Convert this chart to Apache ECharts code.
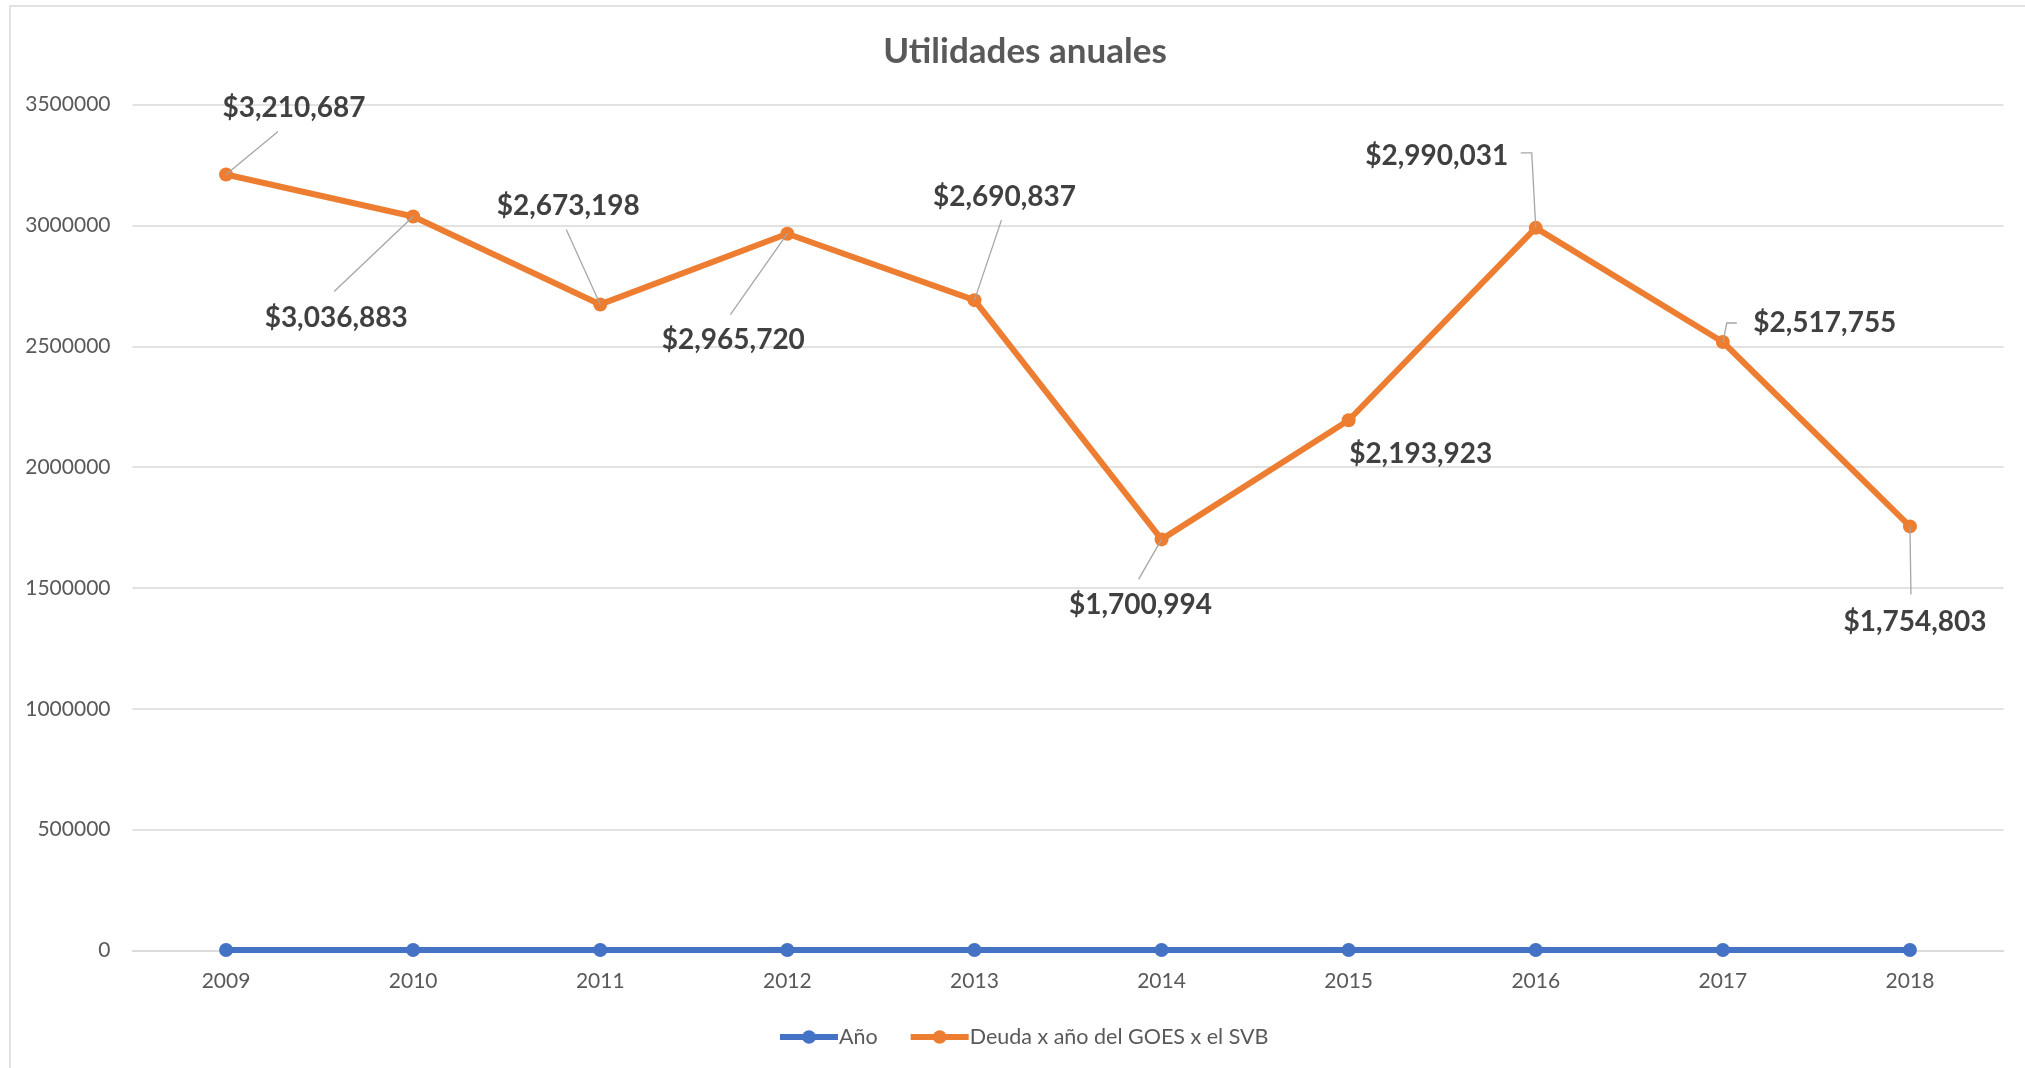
<!DOCTYPE html>
<html>
<head>
<meta charset="utf-8">
<script src="https://cdn.jsdelivr.net/npm/echarts@6/dist/echarts.min.js"></script>
<style>
html,body{margin:0;padding:0;background:#fff;}
#chart{width:2025px;height:1068px;}
</style>
</head>
<body>
<div id="chart"></div>
<script>
const categories = ['2009','2010','2011','2012','2013','2014','2015','2016','2017','2018'];
const anoValues = [2009, 2010, 2011, 2012, 2013, 2014, 2015, 2016, 2017, 2018];
const deudaValues = [3210687, 3036883, 2673198, 2965720, 2690837, 1700994, 2193923, 2990031, 2517755, 1754803];
const yTicks = { min: 0, max: 3500000, interval: 500000 };
const seriesNames = ['Año', 'Deuda x año del GOES x el SVB'];
const titleText = 'Utilidades anuales';

// label offsets (pixels) from each point, to mimic the reference's label placement
const labelOffsets = [[68,-67],[-77,101],[-32,-98],[-54,106],[30,-103],[-21,66],[72,34],[-99,-72],[102,-19],[5,96]];
// leader line vertices as pixel offsets from each point; null = no leader line
const leaderOffsets = [
  [[0,0],[52,-43]],
  [[0,0],[-79,75]],
  [[0,0],[-34,-75]],
  [[0,0],[-57,81]],
  [[0,0],[27,-80]],
  [[0,0],[-23,40]],
  null,
  [[0,0],[-4,-75],[-15,-75]],
  [[0,0],[4,-19],[14,-19]],
  [[0,0],[1,68]]
];

function money(v){ return '$' + v.toString().replace(/\B(?=(\d{3})+(?!\d))/g, ','); }

const FONT = 'Lato, "Open Sans", sans-serif';
const chart = echarts.init(document.getElementById('chart'));
chart.setOption({
  animation: false,
  backgroundColor: '#ffffff',
  graphic: [{
    type: 'rect', silent: true, z: -10,
    shape: { x: 10, y: 6, width: 2040, height: 1090 },
    style: { fill: 'none', stroke: '#d9d9d9', lineWidth: 1.5 }
  }],
  title: {
    text: titleText, left: 1020, textAlign: 'center', top: 29,
    textStyle: { fontFamily: FONT, fontWeight: 'bold', fontSize: 35, color: '#595959' }
  },
  legend: {
    left: 772, top: 1021, itemWidth: 58, itemHeight: 17, itemGap: 30,
    lineStyle: { width: 6 },
    textStyle: { fontFamily: FONT, fontSize: 21.5, color: '#595959', padding: [0,0,0,-4] },
    data: seriesNames
  },
  grid: { left: 132.5, right: 21.5, top: 104.6, bottom: 117.5, containLabel: false },
  xAxis: {
    type: 'category', data: categories, boundaryGap: true,
    axisLine: { lineStyle: { color: '#d9d9d9', width: 1.5 } },
    axisTick: { show: false },
    axisLabel: { fontFamily: FONT, fontSize: 21, color: '#595959', margin: 20 }
  },
  yAxis: {
    type: 'value', min: yTicks.min, max: yTicks.max, interval: yTicks.interval,
    axisLine: { show: false }, axisTick: { show: false },
    splitLine: { lineStyle: { color: '#d9d9d9', width: 1.5 } },
    axisLabel: { fontFamily: FONT, fontSize: 21, color: '#595959', margin: 22, formatter: v => String(v) }
  },
  series: [
    {
      name: seriesNames[0], type: 'line', data: anoValues,
      symbol: 'circle', symbolSize: 14,
      lineStyle: { color: '#4472C4', width: 6 },
      itemStyle: { color: '#4472C4' }, z: 2
    },
    {
      name: seriesNames[1], type: 'line', data: deudaValues,
      symbol: 'circle', symbolSize: 14,
      lineStyle: { color: '#ED7D31', width: 6 },
      itemStyle: { color: '#ED7D31' }, z: 3,
      label: {
        show: true, position: 'inside', align: 'center', verticalAlign: 'middle',
        fontFamily: FONT, fontWeight: 'bold', fontSize: 28, color: '#404040',
        formatter: p => money(p.value)
      },
      labelLine: { show: false },
      labelLayout: p => ({ dx: labelOffsets[p.dataIndex][0], dy: labelOffsets[p.dataIndex][1] })
    },
    {
      name: 'leaders', type: 'custom', silent: true, z: 4,
      data: deudaValues.map((v, i) => [i, v]),
      renderItem: (params, api) => {
        const i = params.dataIndex;
        const l = leaderOffsets[i];
        if (!l) return null;
        const c = api.coord([api.value(0), api.value(1)]);
        return {
          type: 'polyline',
          shape: { points: l.map(o => [c[0] + o[0], c[1] + o[1]]) },
          style: { stroke: '#a6a6a6', lineWidth: 1.3, fill: null }
        };
      }
    }
  ]
});
</script>
</body>
</html>
